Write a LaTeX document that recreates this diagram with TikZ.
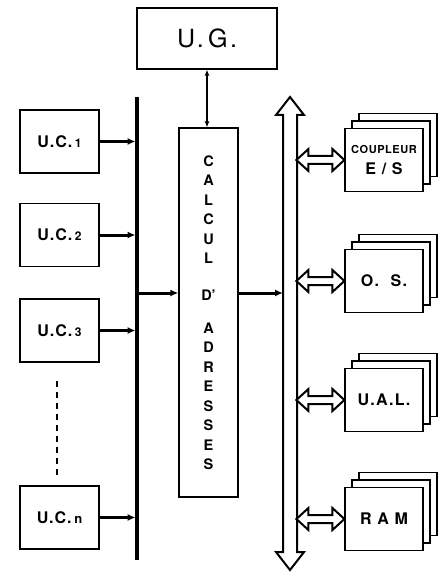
\documentclass[tikz,border=0pt]{standalone}
\usepackage{fontspec}
\setmainfont{TeX Gyre Heros}
\usepackage{tikz}
\usetikzlibrary{arrows.meta, calc, shadows}

\begin{document}
\begin{tikzpicture}[x=1pt, y=-1pt, >=Latex,
    box/.style={draw, line width=1.2pt, fill=white, inner sep=0pt},
    ucbox/.style={box, minimum width=79pt, minimum height=63pt,
        font=\bfseries\fontsize{16}{18}\selectfont\addfontfeatures{LetterSpace=6}},
    modbox/.style={box, minimum width=78pt, minimum height=63pt, align=center,
        font=\bfseries\fontsize{16}{18}\selectfont\addfontfeatures{LetterSpace=8},
        double copy shadow={shadow xshift=7pt, shadow yshift=7.5pt, line width=1.2pt}},
    feed/.style={->, line width=3pt, >={Latex[length=8pt,width=7pt]}},
    hollow/.style={draw, line width=2pt, fill=white, line join=miter}]
    \useasboundingbox (0,0) rectangle (438,572);
    \node[box, minimum width=140pt, minimum height=61pt,
        font=\fontsize{25}{28}\selectfont\addfontfeatures{LetterSpace=10}] (ug) at (207,38.5) {U.\,G.};
    \node[box, minimum width=59pt, minimum height=369pt, align=center,
        font=\bfseries\fontsize{14.5}{19.5}\selectfont] (addr) at (208.5,312.5)
        {C\\A\\L\\C\\U\\L\\[17pt]D’\\[13.5pt]A\\D\\R\\E\\S\\S\\E\\S};
    \draw[{Latex[length=6pt,width=5pt]}-{Latex[length=6pt,width=5pt]}, line width=1.8pt]
        (ug.south) -- (ug.south |- addr.north);
    \node[ucbox] (uc1) at (59.5,141.5) {U.C.\,{\fontsize{12}{12}\selectfont 1}};
    \node[ucbox] (uc2) at (59.5,235) {U.C.\,{\fontsize{12}{12}\selectfont 2}};
    \node[ucbox] (uc3) at (59.5,330.5) {U.C.\,{\fontsize{12}{12}\selectfont 3}};
    \node[ucbox] (ucn) at (59.5,517.5) {U.C.\,{\fontsize{13}{12}\selectfont n}};
    \coordinate (lbTop) at (137,97);
    \coordinate (lbBot) at (137,560);
    \draw[line width=3.5pt] (lbTop) -- (lbBot);
    \foreach \u in {uc1,uc2,uc3,ucn}
        \draw[feed, shorten >=1.5pt] (\u.east) -- (\u.east -| lbTop);
    \draw[line width=2pt, dash pattern=on 6pt off 5pt, shorten <=18pt, shorten >=7pt]
        ([xshift=-2.5pt]uc3.south) -- ([xshift=-2.5pt]ucn.north);
    \coordinate (tap) at (137,293);
    \coordinate (rbTop) at (290,97);
    \coordinate (rbBot) at (290,570);
    \draw[feed] (tap) -- (tap -| addr.west);
    \draw[feed, shorten >=7pt] (tap -| addr.east) -- (tap -| rbTop);
    \draw[hollow] (rbTop) -- ++(14,18) -- ++(-7,0) -- ($(rbBot)+(7,-18)$) -- ++(7,0) -- (rbBot)
        -- ++(-14,-18) -- ++(7,0) -- ($(rbTop)+(-7,18)$) -- ++(-7,0) -- cycle;
    \foreach \nm/\txt/\yy in {cpl/{{\fontsize{11}{12}\selectfont\addfontfeatures{LetterSpace=5}COUPLEUR}\\[3pt]E / S}/160,
            os/{O.~~S.}/281, ual/{U.A.L.}/400, ram/{R A M}/519} {
        \node[modbox] (\nm) at (384,\yy) {\txt};
        \draw[hollow] (\nm.west) -- ++(-12,-11) -- ++(0,7) -- ++(-24,0) -- ++(0,-7) -- ++(-12,11)
            -- ++(12,11) -- ++(0,-7) -- ++(24,0) -- ++(0,7) -- cycle;
    }
\end{tikzpicture}
\end{document}
